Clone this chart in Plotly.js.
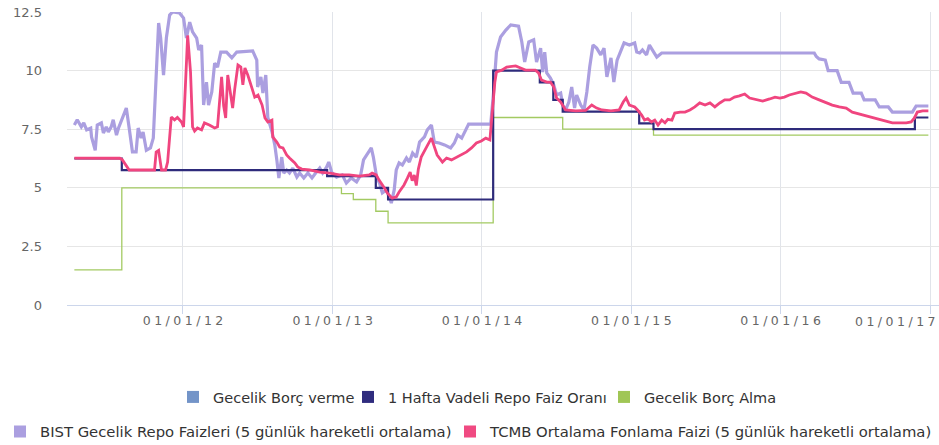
<!DOCTYPE html>
<html>
<head>
<meta charset="utf-8">
<script src="https://cdn.plot.ly/plotly-3.0.1.min.js"></script>
<style>
html,body{margin:0;padding:0;background:#fff;}
#chart{width:939px;height:445px;}
.xtick text, .x2tick text{letter-spacing:3.5px;}
</style>
</head>
<body>
<div id="chart"></div>
<script>
// ---- Data ----
const seriesNames = [
  'Gecelik Borç verme',
  '1 Hafta Vadeli Repo Faiz Oranı',
  'Gecelik Borç Alma',
  'BIST Gecelik Repo Faizleri (5 günlük hareketli ortalama)',
  'TCMB Ortalama Fonlama Faizi (5 günlük hareketli ortalama)'
];

// Gecelik Borç verme: no visible data in the chart
const lendingDates = [];
const lendingValues = [];

// 1 Hafta Vadeli Repo Faiz Oranı (step)
const repoDates = ['2011-04-11','2011-08-05','2012-12-19','2013-04-17','2013-05-17','2014-01-29','2014-05-23','2014-06-25','2014-07-18','2015-01-21','2015-02-25','2016-11-25','2016-12-28'];
const repoValues = [6.25,5.75,5.5,5.0,4.5,10.0,9.5,8.75,8.25,7.75,7.5,8.0,8.0];

// Gecelik Borç Alma (step)
const borrowDates = ['2011-04-11','2011-08-05','2013-01-23','2013-02-21','2013-04-17','2013-05-17','2014-01-29','2014-07-18','2015-02-25','2016-12-28'];
const borrowValues = [1.5,5.0,4.75,4.5,4.0,3.5,8.0,7.5,7.25,7.25];

// BIST Gecelik Repo Faizleri (5 günlük hareketli ortalama)
const bistDates = ['2011-04-11','2011-04-18','2011-04-28','2011-05-04','2011-05-11','2011-05-21','2011-05-23','2011-06-01','2011-06-06','2011-06-16','2011-06-21','2011-06-28','2011-07-03','2011-07-10','2011-07-15','2011-07-23','2011-07-28','2011-08-06','2011-08-16','2011-08-23','2011-08-31','2011-09-09','2011-09-14','2011-09-21','2011-09-26','2011-10-04','2011-10-14','2011-10-21','2011-10-28','2011-11-03','2011-11-08','2011-11-15','2011-11-22','2011-11-30','2011-12-07','2011-12-24','2012-01-03','2012-01-10','2012-01-18','2012-01-25','2012-02-04','2012-02-09','2012-02-16','2012-02-21','2012-02-28','2012-03-04','2012-03-12','2012-03-19','2012-03-26','2012-04-03','2012-04-17','2012-04-30','2012-05-12','2012-06-06','2012-06-20','2012-06-30','2012-07-02','2012-07-10','2012-07-15','2012-07-22','2012-07-27','2012-08-06','2012-08-13','2012-08-18','2012-08-23','2012-08-30','2012-09-04','2012-09-11','2012-09-18','2012-09-26','2012-10-06','2012-10-13','2012-10-23','2012-11-02','2012-11-12','2012-11-21','2012-12-01','2012-12-08','2012-12-18','2012-12-23','2012-12-30','2013-01-11','2013-01-25','2013-02-04','2013-02-16','2013-03-01','2013-03-11','2013-03-18','2013-03-28','2013-04-06','2013-04-11','2013-04-19','2013-04-26','2013-05-03','2013-05-13','2013-05-20','2013-05-25','2013-06-01','2013-06-06','2013-06-13','2013-06-21','2013-07-01','2013-07-08','2013-07-16','2013-07-25','2013-08-02','2013-08-14','2013-08-21','2013-08-31','2013-09-07','2013-09-19','2013-10-02','2013-10-17','2013-10-26','2013-11-03','2013-11-13','2013-11-20','2013-11-30','2013-12-26','2014-01-23','2014-01-30','2014-02-06','2014-02-16','2014-03-01','2014-03-13','2014-04-01','2014-04-09','2014-04-16','2014-04-26','2014-05-08','2014-05-15','2014-05-25','2014-05-30','2014-06-04','2014-06-09','2014-06-18','2014-06-26','2014-07-03','2014-07-13','2014-07-18','2014-07-25','2014-08-02','2014-08-09','2014-08-16','2014-08-21','2014-08-31','2014-09-08','2014-09-15','2014-09-22','2014-09-30','2014-10-09','2014-10-19','2014-10-27','2014-11-03','2014-11-13','2014-11-20','2014-11-28','2014-12-08','2014-12-15','2014-12-28','2015-01-10','2015-01-15','2015-01-22','2015-01-29','2015-02-08','2015-02-15','2015-02-22','2015-03-05','2015-03-17','2016-03-24','2016-03-29','2016-04-05','2016-04-20','2016-04-27','2016-05-19','2016-05-29','2016-06-17','2016-06-27','2016-07-17','2016-07-24','2016-08-20','2016-08-30','2016-09-21','2016-10-01','2016-11-19','2016-11-28','2016-12-28'];
const bistValues = [7.68,7.9,7.6,7.77,7.47,7.55,7.17,6.6,7.68,7.77,7.34,7.6,7.38,7.6,7.9,7.25,7.55,7.98,8.4,7.55,6.53,6.53,7.55,7.12,7.38,6.6,6.7,7.12,9.94,12.03,11.39,9.81,11.4,12.37,12.5,12.46,12.24,11.39,12.07,11.65,11.39,10.88,11.09,8.53,9.51,8.53,9.09,10.32,10.15,10.79,10.79,10.54,10.79,10.84,10.84,10.45,9.3,9.73,9.04,9.81,8.0,7.4,6.83,6.19,5.42,6.31,5.63,5.76,5.63,5.84,5.46,5.63,5.42,5.63,5.42,5.63,5.84,5.63,5.89,6.1,5.67,5.46,5.55,5.2,5.42,5.25,5.55,6.19,6.48,6.7,6.31,5.46,5.2,4.78,4.91,4.56,4.35,4.91,5.76,6.06,5.97,6.27,6.1,6.48,6.31,6.95,7.17,7.47,7.68,6.95,6.91,6.83,6.7,6.91,7.25,7.12,7.38,7.72,7.72,7.72,9.09,10.79,11.43,11.73,11.95,11.9,11.22,10.37,11.22,11.31,10.37,10.96,9.94,10.79,9.9,9.68,9.39,8.96,9.04,8.53,8.32,8.66,9.3,8.4,8.96,8.53,8.32,9.09,10.15,11.09,10.96,10.67,10.96,9.73,10.54,9.51,10.45,10.88,11.18,11.09,11.18,10.79,10.75,10.88,10.67,11.09,10.88,10.58,10.75,10.75,10.6,10.5,10.45,10.0,10.0,9.5,9.5,9.04,9.04,8.75,8.75,8.45,8.45,8.23,8.23,8.49,8.49];

// TCMB Ortalama Fonlama Faizi (5 günlük hareketli ortalama)
const tcmbDates = ['2011-04-11','2011-07-31','2011-08-06','2011-08-16','2011-08-23','2011-10-24','2011-10-28','2011-11-03','2011-11-10','2011-11-20','2011-11-25','2011-12-04','2011-12-12','2011-12-19','2011-12-29','2012-01-03','2012-01-08','2012-01-13','2012-01-20','2012-01-25','2012-01-30','2012-02-06','2012-02-16','2012-02-23','2012-03-06','2012-03-19','2012-03-26','2012-03-31','2012-04-05','2012-04-10','2012-04-15','2012-04-20','2012-04-27','2012-05-02','2012-05-07','2012-05-15','2012-05-22','2012-05-27','2012-06-01','2012-06-08','2012-06-18','2012-06-25','2012-07-03','2012-07-13','2012-07-20','2012-07-27','2012-08-06','2012-08-08','2012-08-18','2012-08-25','2012-09-02','2012-09-11','2012-09-18','2012-10-01','2012-10-08','2012-10-18','2012-11-06','2012-12-01','2012-12-25','2013-01-18','2013-02-11','2013-03-08','2013-04-01','2013-04-08','2013-04-18','2013-04-25','2013-05-08','2013-05-15','2013-05-27','2013-06-06','2013-06-13','2013-06-25','2013-07-03','2013-07-10','2013-07-15','2013-07-20','2013-07-25','2013-07-30','2013-08-06','2013-08-14','2013-08-21','2013-08-31','2013-09-07','2013-09-14','2013-09-27','2013-10-07','2013-10-19','2013-11-01','2013-11-13','2013-11-25','2013-12-07','2013-12-19','2013-12-31','2014-01-11','2014-01-21','2014-01-26','2014-02-02','2014-02-06','2014-02-19','2014-03-03','2014-03-25','2014-04-06','2014-04-18','2014-05-12','2014-05-20','2014-05-27','2014-06-09','2014-06-18','2014-06-26','2014-07-03','2014-07-13','2014-07-25','2014-08-19','2014-09-12','2014-09-27','2014-10-09','2014-10-22','2014-11-13','2014-12-03','2014-12-13','2014-12-20','2014-12-28','2015-01-10','2015-01-17','2015-01-27','2015-02-03','2015-02-11','2015-02-20','2015-02-28','2015-03-08','2015-03-17','2015-03-25','2015-04-01','2015-04-11','2015-04-18','2015-05-01','2015-05-13','2015-05-25','2015-06-06','2015-06-18','2015-07-01','2015-07-13','2015-07-25','2015-08-06','2015-08-18','2015-08-30','2015-09-11','2015-09-23','2015-10-06','2015-10-18','2015-11-04','2015-11-19','2015-12-06','2015-12-19','2015-12-31','2016-01-11','2016-01-23','2016-02-08','2016-02-20','2016-03-04','2016-03-19','2016-04-05','2016-04-22','2016-05-07','2016-05-24','2016-06-10','2016-06-25','2016-07-12','2016-07-29','2016-08-13','2016-08-30','2016-09-16','2016-10-01','2016-10-18','2016-11-04','2016-11-16','2016-11-24','2016-12-01','2016-12-14','2016-12-28'];
const tcmbValues = [6.27,6.26,6.2,5.97,5.76,5.76,6.53,6.6,5.76,5.76,6.1,8.02,7.9,8.0,7.81,7.6,9.26,11.5,9.94,7.6,7.42,7.55,7.47,7.77,7.68,7.55,7.6,8.83,9.73,8.5,7.98,9.81,9.09,8.4,9.2,10.24,10.15,9.39,10.11,9.81,9.26,8.87,8.96,8.53,7.98,7.81,7.89,7.17,6.95,6.74,6.7,6.4,6.27,6.06,5.89,5.8,5.76,5.67,5.63,5.55,5.55,5.5,5.55,5.63,5.55,5.33,4.99,4.78,4.56,4.61,4.82,5.12,5.4,5.67,5.3,5.55,5.1,5.8,6.31,6.6,6.8,7.12,6.74,6.4,6.1,6.27,6.19,6.31,6.4,6.53,6.7,6.91,7.0,7.12,7.04,8.1,9.5,9.94,10.02,10.15,10.2,10.11,10.02,10.02,9.9,9.6,9.51,9.51,9.3,8.83,8.66,8.32,8.28,8.3,8.53,8.4,8.32,8.28,8.32,8.66,8.83,8.53,8.45,8.32,8.1,7.89,7.95,7.81,7.89,7.68,7.89,7.77,7.92,7.89,8.19,8.23,8.23,8.32,8.45,8.62,8.53,8.62,8.45,8.62,8.75,8.75,8.87,8.92,9.0,8.83,8.75,8.7,8.79,8.87,8.83,8.87,8.96,9.04,9.09,9.04,8.87,8.75,8.62,8.53,8.45,8.4,8.23,8.15,8.06,8.02,7.94,7.85,7.77,7.77,7.77,7.81,7.98,8.23,8.28,8.28];

// Axis ticks
const xTickDates = ['2012-01-01','2013-01-01','2014-01-01','2015-01-01','2016-01-01','2017-01-01'];
const xTickLabels = ['01/01/12','01/01/13','01/01/14','01/01/15','01/01/16','01/01/17'];
const yTickValues = [0, 2.5, 5, 7.5, 10, 12.5];
const yTickLabels = ['0', '2.5', '5', '7.5', '10', '12.5'];

// ---- Styles ----
const lineColors = ['#7394c8', '#2e2b7b', '#a3ca62', '#ab9fe0', '#f0457f'];
const legendColors = ['#7394c8', '#2f2c7e', '#a0c655', '#ab9fe0', '#f04a82'];
const FONT = 'DejaVu Sans, Verdana, sans-serif';
const X_RANGE = ['2011-03-24', '2017-01-23'];

// The last date label is shown by an overlaid axis, shifted left so it stays inside (as in the reference)
const lastIdx = xTickLabels.length - 1;
const mainTickText = xTickLabels.map((t, i) => i === lastIdx ? '' : t);

const traces = [
  {x: lendingDates, y: lendingValues, mode: 'lines', line: {color: lineColors[0], width: 2}, showlegend: false, hoverinfo: 'skip'},
  {x: borrowDates, y: borrowValues, mode: 'lines', line: {color: lineColors[2], width: 1.3, shape: 'hv'}, showlegend: false},
  {x: bistDates, y: bistValues, mode: 'lines', line: {color: lineColors[3], width: 3.2}, showlegend: false},
  {x: repoDates, y: repoValues, mode: 'lines', line: {color: lineColors[1], width: 2.2, shape: 'hv'}, showlegend: false},
  {x: tcmbDates, y: tcmbValues, mode: 'lines', line: {color: lineColors[4], width: 2.8}, showlegend: false},
  // carrier for the overlaid label axis (no marks)
  {x: [null], y: [null], xaxis: 'x2', yaxis: 'y', mode: 'lines', showlegend: false, hoverinfo: 'skip'}
];

// legend entries (square swatches)
const legendIds = ['legend', 'legend2', 'legend3', 'legend4', 'legend5'];
seriesNames.forEach((name, i) => {
  traces.push({
    x: [null], y: [null], mode: 'markers', name: name,
    marker: {symbol: 'square', size: 12, color: legendColors[i], line: {width: 0}},
    legend: legendIds[i], showlegend: true, hoverinfo: 'skip'
  });
});

const W = 939, H = 445;
function legendBox(x0, yc, size) {
  return {
    x: x0 / W, xref: 'container', xanchor: 'left',
    y: (H - yc) / H, yref: 'container', yanchor: 'middle',
    orientation: 'h', bgcolor: 'rgba(0,0,0,0)', borderwidth: 0,
    font: {family: FONT, size: size, color: '#333333'}
  };
}

const tickFontX = {family: FONT, size: 12.5, color: '#666666'};

const layout = {
  width: W, height: H,
  margin: {l: 67, r: 0, t: 12, b: 140},
  paper_bgcolor: '#ffffff', plot_bgcolor: '#ffffff',
  showlegend: true,
  xaxis: {
    type: 'date', range: X_RANGE,
    tickmode: 'array', tickvals: xTickDates, ticktext: mainTickText,
    showgrid: true, gridcolor: '#e1e4ea', gridwidth: 1,
    showline: true, linecolor: '#ccd6eb', linewidth: 1,
    ticks: 'outside', ticklen: 8, tickcolor: '#ccd6eb',
    ticklabelshift: 2, ticklabelstandoff: -4,
    tickfont: tickFontX,
    zeroline: false, fixedrange: true
  },
  xaxis2: {
    type: 'date', range: X_RANGE, overlaying: 'x', anchor: 'y', side: 'bottom',
    tickmode: 'array', tickvals: [xTickDates[lastIdx]], ticktext: [xTickLabels[lastIdx]],
    showgrid: false, showline: false, zeroline: false, ticks: '',
    ticklabelshift: -33, ticklabelstandoff: 7, ticklabeloverflow: 'allow',
    showticklabels: true,
    tickfont: tickFontX, fixedrange: true
  },
  yaxis: {
    range: [0, 12.5], tickmode: 'array', tickvals: yTickValues, ticktext: yTickLabels,
    showgrid: true, gridcolor: '#e6e6e6', gridwidth: 1,
    zeroline: false, showline: false, ticks: '',
    ticklabelstandoff: 24,
    tickfont: {family: FONT, size: 13, color: '#666666'},
    fixedrange: true
  },
  legend: legendBox(173, 397, 14.5),
  legend2: legendBox(348, 397, 14.5),
  legend3: legendBox(604, 397, 14.5),
  legend4: legendBox(0, 432, 14.8),
  legend5: legendBox(450, 432, 14.8)
};

Plotly.newPlot('chart', traces, layout, {displayModeBar: false, staticPlot: true});
</script>
</body>
</html>
